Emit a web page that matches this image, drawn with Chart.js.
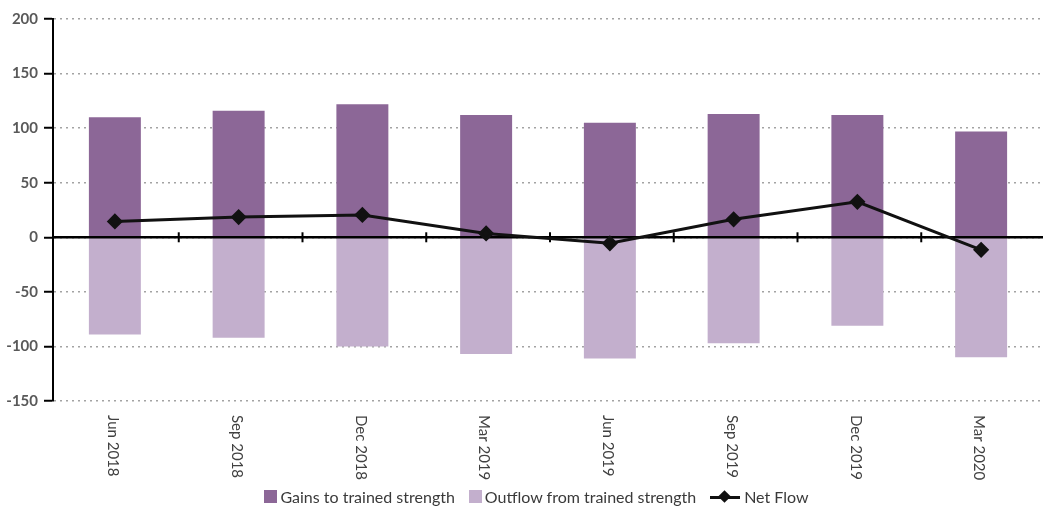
<!DOCTYPE html>
<html>
<head>
<meta charset="utf-8">
<script src="https://cdn.jsdelivr.net/npm/chart.js@4.4.0/dist/chart.umd.min.js"></script>
<style>
  html, body { margin: 0; padding: 0; background: #fff; overflow: hidden; }
  #wrap { position: relative; width: 1043px; height: 508px; }
  #legend {
    position: absolute; left: 30px; right: 0; top: 487px;
    display: flex; justify-content: center; align-items: center;
    font-family: Lato, "Noto Sans", sans-serif; font-size: 16px; color: #3a3a3a;
  }
  .item { display: flex; align-items: center; margin: 0 7px; }
  .box { width: 13px; height: 13px; margin-right: 3px; }
  .netkey { position: relative; width: 30px; height: 12px; margin-right: 4px; }
  .netkey .ln { position: absolute; left: 0; right: 0; top: 5px; height: 3px; background: #111; }
  .netkey .dm { position: absolute; left: 10px; top: 1px; width: 9px; height: 9px; background: #111; transform: rotate(45deg); }
</style>
</head>
<body>
<div id="wrap">
  <canvas id="chart" width="1043" height="508"></canvas>
  <div id="legend">
    <div class="item"><span class="box" style="background:#8c6797"></span>Gains to trained strength</div>
    <div class="item"><span class="box" style="background:#c3afcd"></span>Outflow from trained strength</div>
    <div class="item"><span class="netkey"><span class="ln"></span><span class="dm"></span></span>Net Flow</div>
  </div>
</div>
<script>
const quarters = ['Jun 2018', 'Sep 2018', 'Dec 2018', 'Mar 2019', 'Jun 2019', 'Sep 2019', 'Dec 2019', 'Mar 2020'];
const gains = [110, 116, 122, 112, 105, 113, 112, 97];
const outflow = [-89, -92, -100, -107, -111, -97, -81, -110];
const netFlow = [14.5, 18.5, 20.5, 3.5, -5.5, 16.5, 32.5, -11.5];
const yTicks = [-150, -100, -50, 0, 50, 100, 150, 200];

const FONT = 'Lato, "Noto Sans", sans-serif';

// zero line with category dividers, drawn under the net flow line
const zeroAxis = {
  id: 'zeroAxis',
  beforeDatasetDraw(chart, args) {
    if (args.index !== 2) return;
    const { ctx, chartArea } = chart;
    const x = chart.scales.x;
    const y0 = chart.scales.y.getPixelForValue(0);
    ctx.save();
    ctx.strokeStyle = '#000';
    ctx.lineWidth = 2.5;
    ctx.beginPath();
    ctx.moveTo(chartArea.left, y0);
    ctx.lineTo(chartArea.right, y0);
    ctx.stroke();
    ctx.lineWidth = 2;
    const step = x.getPixelForValue(1) - x.getPixelForValue(0);
    for (let i = 1; i < quarters.length; i++) {
      const px = x.getPixelForValue(i) - step / 2 + 2;
      ctx.beginPath();
      ctx.moveTo(px, y0 - 5);
      ctx.lineTo(px, y0 + 5);
      ctx.stroke();
    }
    ctx.restore();
  }
};

// category labels rotated to read top to bottom
const sideLabels = {
  id: 'sideLabels',
  afterDraw(chart) {
    const { ctx, chartArea } = chart;
    const x = chart.scales.x;
    ctx.save();
    ctx.fillStyle = '#404040';
    ctx.font = '15px ' + FONT;
    ctx.textAlign = 'left';
    ctx.textBaseline = 'middle';
    quarters.forEach((q, i) => {
      ctx.save();
      ctx.translate(x.getPixelForValue(i) - 2, chartArea.bottom + 14);
      ctx.rotate(Math.PI / 2);
      ctx.fillText(q, 0, 0);
      ctx.restore();
    });
    ctx.restore();
  }
};

new Chart(document.getElementById('chart'), {
  data: {
    labels: quarters,
    datasets: [
      {
        type: 'bar',
        label: 'Gains to trained strength',
        data: gains,
        backgroundColor: '#8c6797',
        barPercentage: 0.42,
        categoryPercentage: 1,
        order: 2
      },
      {
        type: 'bar',
        label: 'Outflow from trained strength',
        data: outflow,
        backgroundColor: '#c3afcd',
        barPercentage: 0.42,
        categoryPercentage: 1,
        order: 3
      },
      {
        type: 'line',
        label: 'Net Flow',
        data: netFlow,
        borderColor: '#111',
        backgroundColor: '#111',
        borderWidth: 3,
        pointStyle: 'rectRot',
        pointRadius: 6,
        pointHoverRadius: 6,
        tension: 0,
        order: 1
      }
    ]
  },
  options: {
    responsive: false,
    animation: false,
    layout: { autoPadding: false, padding: { top: 19, right: 0, left: 0, bottom: 0 } },
    plugins: {
      legend: { display: false },
      tooltip: { enabled: false }
    },
    scales: {
      x: {
        stacked: true,
        grid: { display: false },
        border: { display: false },
        ticks: { display: false },
        afterFit(scale) { scale.height = 107; }
      },
      y: {
        min: -150,
        max: 200,
        afterBuildTicks(scale) { scale.ticks = yTicks.map(v => ({ value: v })); },
        afterFit(scale) { scale.width = 53; },
        grid: {
          color: '#a3a3a3',
          lineWidth: 1.5,
          tickLength: 9,
          tickColor: '#000',
          tickWidth: 2,
          tickBorderDash: []
        },
        border: { display: true, color: '#000', width: 2, dash: [2, 4] },
        ticks: {
          color: '#595959',
          padding: 6,
          font: { family: FONT, size: 15, weight: 'bold' }
        }
      }
    }
  },
  plugins: [zeroAxis, sideLabels]
});
</script>
</body>
</html>
